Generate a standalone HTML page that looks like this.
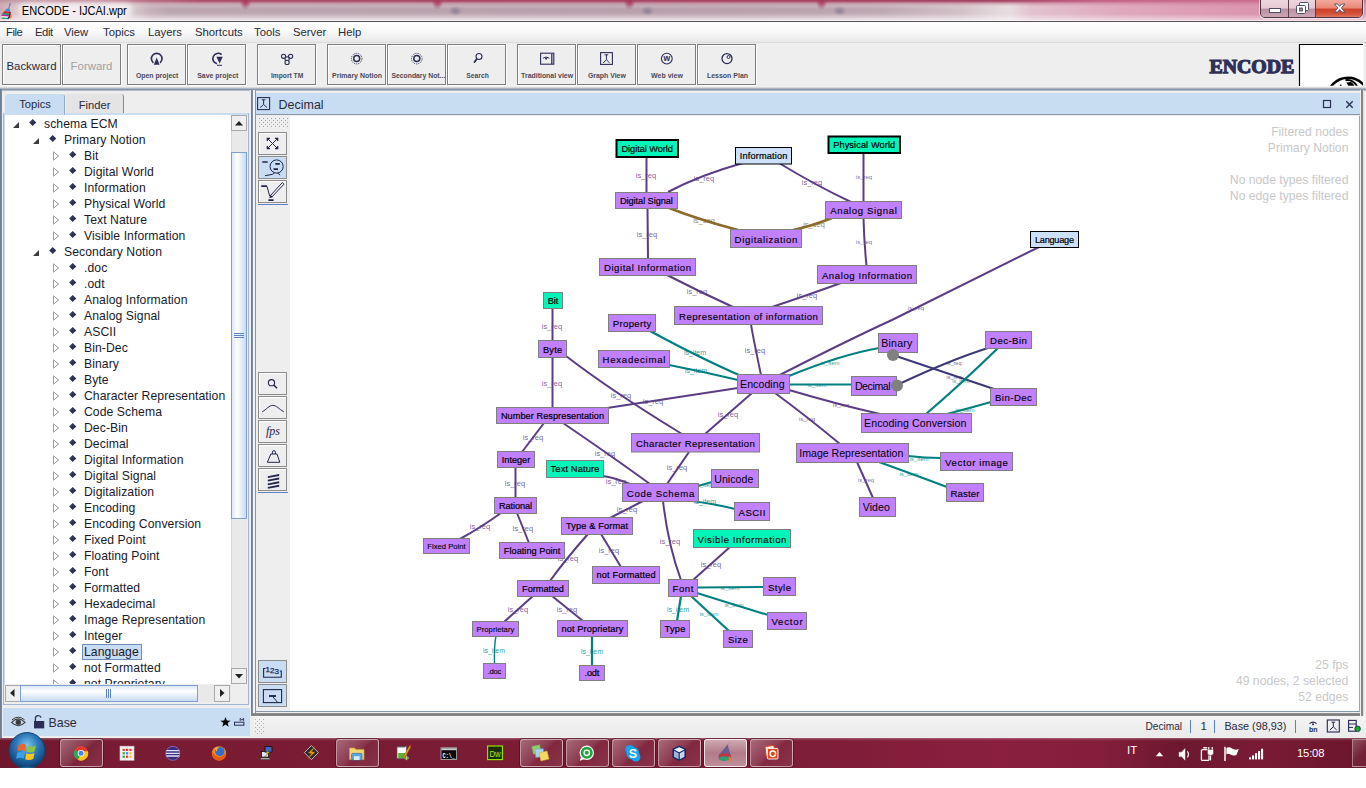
<!DOCTYPE html><html><head><meta charset="utf-8"><title>ENCODE - IJCAI.wpr</title><style>
*{box-sizing:border-box;margin:0;padding:0}
html,body{width:1366px;height:788px;overflow:hidden;background:#fff}
body{font-family:"Liberation Sans",sans-serif;font-size:12px;color:#222;position:relative}
.abs{position:absolute}
#title{left:0;top:0;width:1366px;height:21px;background:
 radial-gradient(ellipse 6px 9px at 245.5px 1px,rgba(168,36,82,.9) 0,rgba(168,36,82,.55) 45%,rgba(168,36,82,0) 100%),radial-gradient(ellipse 6px 9px at 437.5px 1px,rgba(168,36,82,.9) 0,rgba(168,36,82,.55) 45%,rgba(168,36,82,0) 100%),radial-gradient(ellipse 6px 9px at 629.5px 1px,rgba(168,36,82,.9) 0,rgba(168,36,82,.55) 45%,rgba(168,36,82,0) 100%),radial-gradient(ellipse 6px 9px at 821.5px 1px,rgba(168,36,82,.9) 0,rgba(168,36,82,.55) 45%,rgba(168,36,82,0) 100%),
 radial-gradient(ellipse 7px 5px at 455.5px 11px,rgba(96,100,140,.6) 0,rgba(96,100,140,0) 100%),radial-gradient(ellipse 7px 5px at 647.5px 11px,rgba(96,100,140,.6) 0,rgba(96,100,140,0) 100%),radial-gradient(ellipse 7px 5px at 839.5px 11px,rgba(96,100,140,.6) 0,rgba(96,100,140,0) 100%),
 linear-gradient(180deg,rgba(255,255,255,0) 0,rgba(255,255,255,0) 14px,rgba(255,255,255,.42) 19px,rgba(255,255,255,.5) 21px),
 linear-gradient(90deg,#cfa9b2 0,#dcc3c9 14px,#e4d6da 40px,#e6dadd 125px,#d5c3c9 150px,#d3c0c7 420px,#d1bcc4 640px,#d4c0c7 800px,#dccdd2 960px,#e8dde0 1010px,#e3c3cf 1030px,#dfa9bd 1120px,#db95af 1250px,#dc98b1 1366px)}
#tstrip{left:0;top:0;width:1366px;height:6px;background:linear-gradient(90deg,rgba(184,140,152,.7) 0,rgba(190,120,140,.75) 100px,rgba(166,62,94,.95) 200px,rgba(162,56,90,1) 1000px,rgba(190,84,120,.9) 1100px,rgba(200,104,138,.7) 1366px);-webkit-mask-image:linear-gradient(180deg,#000 0,rgba(0,0,0,.8) 1.5px,rgba(0,0,0,.3) 3.5px,transparent 6px);mask-image:linear-gradient(180deg,#000 0,rgba(0,0,0,.8) 1.5px,rgba(0,0,0,.3) 3.5px,transparent 6px)}
#tband{left:0;top:3px;width:1366px;height:16px;background:linear-gradient(90deg,rgba(140,108,126,0) 120px,rgba(140,108,126,.34) 170px,rgba(140,108,126,.34) 880px,rgba(140,108,126,0) 1000px);-webkit-mask-image:linear-gradient(180deg,transparent 0,#000 6px,#000 9px,transparent 16px);mask-image:linear-gradient(180deg,transparent 0,#000 6px,#000 9px,transparent 16px)}
#tline{left:0;top:21px;width:1366px;height:1px;background:#55505a}
#menu{left:0;top:22px;width:1366px;height:21px;background:linear-gradient(180deg,#fff 0,#fbfbfb 40%,#e8e8e8 100%);border-bottom:1px solid #dcdcdc}
#menu span{position:absolute;top:4px;font-size:11.3px;color:#2a2a3a}
#tool{left:0;top:43px;width:1366px;height:46px;background:#eeeeee}
.tb{position:absolute;top:1px;width:59px;height:41px;border:1px solid #7d7d7d;background:#eeeeee;box-shadow:inset 1px 1px 0 #fff, 1px 1px 0 #fff}
.tb .l{position:absolute;left:0;right:0;top:25px;text-align:center;font-size:7.2px;font-weight:bold;color:#3a3a48;white-space:nowrap;letter-spacing:-.1px}
.tb .big{position:absolute;left:0;right:0;top:14.5px;text-align:center;font-size:11.4px;color:#2a2a3a}
.tb svg{position:absolute;left:20px;top:5px}

/* main area */
#main{left:0;top:89px;width:1366px;height:649px;background:#eeeeee}
#wl{left:0;top:89px;width:2px;height:649px;background:linear-gradient(90deg,#66788f,#8092aa)}
#topline{left:0;top:87px;width:1366px;height:4px;background:linear-gradient(180deg,#e2e2e2 0,#cfcfcf 1px,#8a9ab0 2px,#7f90a8 3px,#dfe6ee 4px)}
/* left panel */
#lp{left:3px;top:91px;width:247px;height:617px;background:#eeeeee}
.tab{position:absolute;font-size:11.2px;color:#2a2a3a;text-align:center}
#tab1{left:5px;top:94px;width:60px;height:21px;background:#c8ddf2;border:1px solid #c8ddf2;border-radius:3px 3px 0 0;padding-top:2.5px;border-right:1px solid #8fa9c8}
#tab2{left:66px;top:94px;width:58px;height:19px;background:#e4e4e4;border-right:1px solid #6f8db9;border-radius:0 3px 0 0;padding-top:5px}
#tabline{left:3px;top:113px;width:246px;height:2px;background:#c8ddf2}
#tree{left:4px;top:115px;width:227px;height:569px;background:#fff;overflow:hidden;border-left:1px solid #c8ddf2}
.tr{position:absolute;height:16px;line-height:16px;font-size:12.2px;color:#1a1a2a;white-space:nowrap;letter-spacing:.07px}
.dm{position:absolute;width:5.4px;height:5.4px;background:#2f3358;transform:rotate(45deg)}
.ao{position:absolute;width:0;height:0;border-left:6px solid transparent;border-bottom:6px solid #3c3c3c}
.ac{position:absolute;width:8px;height:10px}
#vs{left:231px;top:115px;width:16px;height:569px;background:#e9e9e9;border-left:1px solid #cfd8e6}
#hs{left:5px;top:685px;width:226px;height:17px;background:#e9e9e9}
.sb{position:absolute;background:#efefef;border:1px solid #a9a9a9}
#lpb{left:3px;top:684px;width:246px;height:22px}
#lpframe{left:3px;top:113px;width:246px;height:592px;border:1px solid #9fb6d4;border-top:none;pointer-events:none}
#base{left:3px;top:708px;width:247px;height:28px;background:#c8ddf2}
#base .t{left:45.5px;top:7.5px;font-size:12.4px;color:#2a2a3a}
/* splitter */
#split{left:250px;top:90px;width:6px;height:626px;background:linear-gradient(90deg,#eeeeee 0,#eeeeee 1px,#6f8098 1.3px,#8393ab 2.9px,#f4f4f4 2.9px,#f4f4f4 5px,#8497b0 5px)}
/* graph panel */
#gh{left:256px;top:93px;width:1104px;height:22px;background:#c8ddf2;border-bottom:1px solid #8497b0}
#gh .t{left:22.5px;top:5px;font-size:12.5px;color:#2a2a3a}
#gb{left:256px;top:116px;width:1104px;border-right:1px solid #9aa6b6;height:596px;background:#fff;border-bottom:1px solid #8497b0}
#gbot{left:252px;top:713px;width:1112px;height:3px;background:linear-gradient(180deg,#9a9a9a,#7d7d7d 50%,#8d8d8d)}
#gtool{left:256px;top:116px;width:34px;height:595px;background:#eeeeee}
.gb{position:absolute;left:258px;width:29px;height:23px;border:1px solid #8c8c8c;background:#eeeeee;box-shadow:inset 1px 1px 0 #fff}
.gt{position:absolute;right:17.6px;font-size:12.2px;color:#c8c8c8;white-space:nowrap;text-align:right;letter-spacing:0}
#wr{left:1360px;top:90px;width:4px;height:626px;background:linear-gradient(90deg,#f2f2f2 0,#f2f2f2 1px,#7d7d7d 1px,#8a8a8a 3px,#e0e0e0 3px)}
/* status */
#stat{left:254px;top:716px;width:1112px;height:21px;background:linear-gradient(180deg,#f4f4f4,#eaeaea)}
#stat span{position:absolute;top:4px;font-size:12px;color:#2a2a3a}
.vsep{position:absolute;top:4px;width:1px;height:13px;background:#5b82c6}
/* taskbar */
#task{left:0;top:738px;width:1366px;height:30px;background:linear-gradient(180deg,rgba(255,255,255,.28) 0,rgba(255,255,255,.06) 2px,rgba(255,255,255,0) 3px),linear-gradient(90deg,#6d162c 0,#7a1b34 120px,#7a1c34 500px,#7d1d37 800px,#8a1f40 1000px,#841e3c 1100px,#6c1730 1180px,#7a1b36 1260px,#6a152c 1366px)}
.tk{position:absolute;top:1px;width:43px;height:28px;border:1px solid rgba(255,255,255,.5);border-radius:3px;background:linear-gradient(135deg,rgba(255,255,255,.34),rgba(255,255,255,.14) 45%,rgba(255,255,255,.05) 55%,rgba(255,255,255,.1));box-shadow:0 0 0 1px rgba(60,10,25,.5)}
</style></head><body>
<div id="title" class="abs"></div><div id="tband" class="abs"></div><div id="tstrip" class="abs"></div><div class="abs" style="left:0;top:20px;width:1366px;height:1px;background:rgba(255,255,255,.55)"></div><div id="tline" class="abs"></div>
<svg class="abs" style="left:0;top:0" width="200" height="22" viewBox="0 0 200 22"><defs><filter id="tg" x="-10%" y="-50%" width="120%" height="200%"><feGaussianBlur stdDeviation="2.2"/></filter></defs><rect x="18" y="3" width="114" height="15" rx="6" fill="#fff" opacity=".55" filter="url(#tg)"/><text x="21.8" y="14.9" font-family="Liberation Sans, sans-serif" font-size="12.3" fill="#000" textLength="105" lengthAdjust="spacingAndGlyphs">ENCODE - IJCAI.wpr</text><path d="M10.4 3 L8.6 8.6" stroke="#7a78b8" stroke-width="1.2"/><path d="M7 8.4 L9.6 8.6 L10.4 12 L4.6 11Z" fill="#3d8fd0"/><path d="M4.6 11 L10.4 12 L10.9 13.8 L2.8 12.8Z" fill="#e02424"/><path d="M2.8 12.8 L10.9 13.8 L10.7 15.3 L1.8 14.4Z" fill="#1d8a6c"/><path d="M1.8 14.4 L10.7 15.3 L10 16.8 L1.4 16Z" fill="#b030a0"/><path d="M1.4 16 L10 16.8 L9 18 L1.3 17.4Z" fill="#f0e8ee"/><path d="M1.3 17.4 L9 18 L8 19 L2 18.8Z" fill="#1f9a5c"/><path d="M9.4 11.8 L10.6 12 L10.2 17.4 L8.4 19 L7.2 18.8 Q9.6 16 9.4 11.8Z" fill="#2b2a8c"/><path d="M10.6 13 Q12.2 14.6 11.6 17.6 L9.2 18.9 Q10.8 16.4 10.6 13Z" fill="#f07a1e"/></svg>
<div id="menu" class="abs">
<span style="left:6px;letter-spacing:-.45px">File</span>
<span style="left:35px;letter-spacing:-.45px">Edit</span>
<span style="left:64px">View</span>
<span style="left:103px">Topics</span>
<span style="left:148px">Layers</span>
<span style="left:195px">Shortcuts</span>
<span style="left:254px">Tools</span>
<span style="left:293px">Server</span>
<span style="left:338px">Help</span>
</div>
<div id="tool" class="abs">
<div class="tb" style="left:2px"><div class="big">Backward</div></div>
<div class="tb" style="left:62px"><div class="big" style="color:#a0a0a0">Forward</div></div>
<div class="tb" style="left:127px"></div>
<div class="tb" style="left:187px"></div>
<div class="tb" style="left:257px"></div>
<div class="tb" style="left:327px"></div>
<div class="tb" style="left:387px"></div>
<div class="tb" style="left:447px"></div>
<div class="tb" style="left:517px"></div>
<div class="tb" style="left:577px"></div>
<div class="tb" style="left:637px"></div>
<div class="tb" style="left:697px"></div>
<svg class="abs" style="left:0;top:-43px" width="1366" height="89" viewBox="0 0 1366 89" font-family="Liberation Sans, sans-serif">
<text x="136" y="78" font-size="7.3" font-weight="bold" fill="#4a4a58" textLength="42.3" lengthAdjust="spacingAndGlyphs">Open project</text>
<text x="197.2" y="78" font-size="7.3" font-weight="bold" fill="#4a4a58" textLength="41.2" lengthAdjust="spacingAndGlyphs">Save project</text>
<text x="271" y="78" font-size="7.3" font-weight="bold" fill="#4a4a58" textLength="32.2" lengthAdjust="spacingAndGlyphs">Import TM</text>
<text x="332.1" y="78" font-size="7.3" font-weight="bold" fill="#4a4a58" textLength="49.8" lengthAdjust="spacingAndGlyphs">Primary Notion</text>
<text x="391.4" y="78" font-size="7.3" font-weight="bold" fill="#4a4a58" textLength="53.9" lengthAdjust="spacingAndGlyphs">Secondary Not...</text>
<text x="466.3" y="78" font-size="7.3" font-weight="bold" fill="#4a4a58" textLength="22.5" lengthAdjust="spacingAndGlyphs">Search</text>
<text x="521.1" y="78" font-size="7.3" font-weight="bold" fill="#4a4a58" textLength="52" lengthAdjust="spacingAndGlyphs">Traditional view</text>
<text x="587.9" y="78" font-size="7.3" font-weight="bold" fill="#4a4a58" textLength="37.9" lengthAdjust="spacingAndGlyphs">Graph View</text>
<text x="651.1" y="78" font-size="7.3" font-weight="bold" fill="#4a4a58" textLength="31.8" lengthAdjust="spacingAndGlyphs">Web view</text>
<text x="706.9" y="78" font-size="7.3" font-weight="bold" fill="#4a4a58" textLength="41.2" lengthAdjust="spacingAndGlyphs">Lesson Plan</text>
<path d="M153.4 62.8 A5.3 5.3 0 1 1 160 62.8" fill="none" stroke="#2b2d55" stroke-width="1.6"/><path d="M153.8 64.8 L159.6 64.8 L156.7 57.6Z" fill="#2b2d55"/>
<path d="M221.6 54.6 A5.3 5.3 0 1 0 217 63.8" fill="none" stroke="#2b2d55" stroke-width="1.6"/><path d="M216.4 56.8 L222.8 56.8 L219.6 63.4Z" fill="#2b2d55"/><path d="M217 65.3 H222" stroke="#2b2d55" stroke-width="1"/>
<circle cx="283.6" cy="56.3" r="2.1" fill="#eee" stroke="#2b2d55" stroke-width="1.1"/>
<circle cx="290.6" cy="56.3" r="2.1" fill="#eee" stroke="#2b2d55" stroke-width="1.1"/>
<circle cx="287.1" cy="58.9" r="2.1" fill="#eee" stroke="#2b2d55" stroke-width="1.1"/>
<circle cx="287.1" cy="62.4" r="2.1" fill="#eee" stroke="#2b2d55" stroke-width="1.1"/>
<circle cx="356.7" cy="58.6" r="3" fill="none" stroke="#2b2d55" stroke-width="1.5"/><circle cx="356.7" cy="58.6" r="5.3" fill="none" stroke="#2b2d55" stroke-width="1" stroke-dasharray="1 1"/>
<circle cx="416.8" cy="58.6" r="3" fill="none" stroke="#2b2d55" stroke-width="1.5"/><circle cx="416.8" cy="58.6" r="5.3" fill="none" stroke="#2b2d55" stroke-width="1" stroke-dasharray="1 1"/>
<circle cx="479" cy="56.5" r="3" fill="none" stroke="#2b2d55" stroke-width="1.1"/><path d="M477 58.8 L474 62.6" stroke="#2b2d55" stroke-width="1.8"/>
<rect x="540.6" y="53.2" width="13.2" height="11" fill="none" stroke="#2b2d55" stroke-width="1.1"/><path d="M551.8 54 V64" stroke="#2b2d55" stroke-width="1.3"/><path d="M543 58.2 Q546.2 55.8 549.4 58.2" fill="none" stroke="#2b2d55" stroke-width="1"/><circle cx="546.2" cy="58.6" r="1.1" fill="#2b2d55"/>
<rect x="600.6" y="52.6" width="11.8" height="11.8" fill="none" stroke="#2b2d55" stroke-width="1.1"/><path d="M604.6 54.8 H608.2 M606.4 54.8 V59.8 L603.2 62.8 M606.4 59.8 L609.6 62.8" fill="none" stroke="#2b2d55" stroke-width="1"/>
<circle cx="666.8" cy="58.6" r="5.4" fill="none" stroke="#2b2d55" stroke-width="1.1"/><text x="666.8" y="61.3" font-size="8.5" font-weight="bold" fill="#2b2d55" text-anchor="middle">w</text>
<circle cx="727" cy="58.6" r="5" fill="none" stroke="#2b2d55" stroke-width="1.3"/><circle cx="728.5" cy="57" r="1.5" fill="none" stroke="#2b2d55" stroke-width="1"/>
</svg>
</div>
<div class="abs" style="left:1260px;top:-1px;width:103px;height:19px;border:1px solid #4a3540;border-radius:0 0 5px 5px;overflow:hidden;box-shadow:0 0 0 1px rgba(255,255,255,.55)"><div class="abs" style="left:0;top:0;width:28px;height:18px;background:linear-gradient(180deg,#ecd6dd 0,#e6c9d3 45%,#b98fa0 50%,#cfa9b7 100%);border-right:1px solid #5a3f4a"></div><div class="abs" style="left:28px;top:0;width:27px;height:18px;background:linear-gradient(180deg,#ecd6dd 0,#e6c9d3 45%,#b98fa0 50%,#cfa9b7 100%);border-right:1px solid #5a3f4a"></div><div class="abs" style="left:55px;top:0;width:48px;height:18px;background:linear-gradient(180deg,#f3a99c 0,#e98775 45%,#cf3f28 50%,#d4553c 80%,#e88a70 100%)"></div></div>
<svg class="abs" style="left:1260px;top:0" width="104" height="18" viewBox="0 0 104 18"><rect x="9.5" y="8.5" width="11" height="4" fill="#fff" stroke="#4a4f68" stroke-width="1"/><rect x="39.5" y="2.5" width="9" height="8" rx="1" fill="#fff" stroke="#4a4f68" stroke-width="1"/><rect x="36.5" y="5.5" width="9" height="8" rx="1" fill="#fff" stroke="#4a4f68" stroke-width="1"/><rect x="39.5" y="8" width="3" height="3" fill="#9a7f90" stroke="#4a4f68" stroke-width=".8"/><path d="M74.5 4 L77.7 4 L79.7 6.4 L81.7 4 L84.9 4 L81.4 8 L84.9 12 L81.7 12 L79.7 9.6 L77.7 12 L74.5 12 L78 8Z" fill="#fff" stroke="#4a4f68" stroke-width=".9"/></svg>
<svg class="abs" style="left:1196px;top:43px" width="170" height="46" viewBox="1196 43 170 46"><text x="1209.4" y="73" font-family="Liberation Serif, serif" font-weight="bold" font-size="19.8" fill="#2e3057" stroke="#2e3057" stroke-width="1.25" textLength="84.9" lengthAdjust="spacingAndGlyphs">ENCODE</text><rect x="1299.5" y="44.5" width="64" height="42" fill="#fff" stroke="none"/><path d="M1299.5 86 V44.5 H1363" fill="none" stroke="#000" stroke-width="1.2"/><clipPath id="lc"><rect x="1300" y="45" width="63" height="40.8"/></clipPath><g clip-path="url(#lc)"><circle cx="1348" cy="98.2" r="20.5" fill="none" stroke="#000" stroke-width="2.5"/><path d="M1345.4 80.3 Q1352.6 78.8 1357.2 86.4" fill="none" stroke="#000" stroke-width="1.9"/><path d="M1346.4 82.4 L1351 82 Q1353.6 83.6 1354.4 86 L1348.4 86Z" fill="#000"/><circle cx="1340.8" cy="85.3" r=".9" fill="#000"/></g></svg>
<div id="main" class="abs"></div><div id="topline" class="abs"></div><div id="wl" class="abs"></div>
<div id="lp" class="abs"></div>
<div id="tab2" class="abs tab">Finder</div><div id="tabline" class="abs"></div><div id="tab1" class="abs tab">Topics</div>
<div id="tree" class="abs">
<div class="ao" style="left:8px;top:6.5px"></div>
<div class="dm" style="left:24.6px;top:5.2px"></div>
<div class="tr" style="left:39px;top:1px">schema ECM</div>
<div class="ao" style="left:28px;top:22.5px"></div>
<div class="dm" style="left:44.6px;top:21.2px"></div>
<div class="tr" style="left:59px;top:17px">Primary Notion</div>
<svg class="ac" style="left:47px;top:36px" viewBox="0 0 8 10"><path d="M1.5 .8 L6.5 5 L1.5 9.2 Z" fill="#fff" stroke="#9a9a9a" stroke-width="1"/></svg>
<div class="dm" style="left:64.6px;top:37.2px"></div>
<div class="tr" style="left:79px;top:33px">Bit</div>
<svg class="ac" style="left:47px;top:52px" viewBox="0 0 8 10"><path d="M1.5 .8 L6.5 5 L1.5 9.2 Z" fill="#fff" stroke="#9a9a9a" stroke-width="1"/></svg>
<div class="dm" style="left:64.6px;top:53.2px"></div>
<div class="tr" style="left:79px;top:49px">Digital World</div>
<svg class="ac" style="left:47px;top:68px" viewBox="0 0 8 10"><path d="M1.5 .8 L6.5 5 L1.5 9.2 Z" fill="#fff" stroke="#9a9a9a" stroke-width="1"/></svg>
<div class="dm" style="left:64.6px;top:69.2px"></div>
<div class="tr" style="left:79px;top:65px">Information</div>
<svg class="ac" style="left:47px;top:84px" viewBox="0 0 8 10"><path d="M1.5 .8 L6.5 5 L1.5 9.2 Z" fill="#fff" stroke="#9a9a9a" stroke-width="1"/></svg>
<div class="dm" style="left:64.6px;top:85.2px"></div>
<div class="tr" style="left:79px;top:81px">Physical World</div>
<svg class="ac" style="left:47px;top:100px" viewBox="0 0 8 10"><path d="M1.5 .8 L6.5 5 L1.5 9.2 Z" fill="#fff" stroke="#9a9a9a" stroke-width="1"/></svg>
<div class="dm" style="left:64.6px;top:101.2px"></div>
<div class="tr" style="left:79px;top:97px">Text Nature</div>
<svg class="ac" style="left:47px;top:116px" viewBox="0 0 8 10"><path d="M1.5 .8 L6.5 5 L1.5 9.2 Z" fill="#fff" stroke="#9a9a9a" stroke-width="1"/></svg>
<div class="dm" style="left:64.6px;top:117.2px"></div>
<div class="tr" style="left:79px;top:113px">Visible Information</div>
<div class="ao" style="left:28px;top:134.5px"></div>
<div class="dm" style="left:44.6px;top:133.2px"></div>
<div class="tr" style="left:59px;top:129px">Secondary Notion</div>
<svg class="ac" style="left:47px;top:148px" viewBox="0 0 8 10"><path d="M1.5 .8 L6.5 5 L1.5 9.2 Z" fill="#fff" stroke="#9a9a9a" stroke-width="1"/></svg>
<div class="dm" style="left:64.6px;top:149.2px"></div>
<div class="tr" style="left:79px;top:145px">.doc</div>
<svg class="ac" style="left:47px;top:164px" viewBox="0 0 8 10"><path d="M1.5 .8 L6.5 5 L1.5 9.2 Z" fill="#fff" stroke="#9a9a9a" stroke-width="1"/></svg>
<div class="dm" style="left:64.6px;top:165.2px"></div>
<div class="tr" style="left:79px;top:161px">.odt</div>
<svg class="ac" style="left:47px;top:180px" viewBox="0 0 8 10"><path d="M1.5 .8 L6.5 5 L1.5 9.2 Z" fill="#fff" stroke="#9a9a9a" stroke-width="1"/></svg>
<div class="dm" style="left:64.6px;top:181.2px"></div>
<div class="tr" style="left:79px;top:177px">Analog Information</div>
<svg class="ac" style="left:47px;top:196px" viewBox="0 0 8 10"><path d="M1.5 .8 L6.5 5 L1.5 9.2 Z" fill="#fff" stroke="#9a9a9a" stroke-width="1"/></svg>
<div class="dm" style="left:64.6px;top:197.2px"></div>
<div class="tr" style="left:79px;top:193px">Analog Signal</div>
<svg class="ac" style="left:47px;top:212px" viewBox="0 0 8 10"><path d="M1.5 .8 L6.5 5 L1.5 9.2 Z" fill="#fff" stroke="#9a9a9a" stroke-width="1"/></svg>
<div class="dm" style="left:64.6px;top:213.2px"></div>
<div class="tr" style="left:79px;top:209px">ASCII</div>
<svg class="ac" style="left:47px;top:228px" viewBox="0 0 8 10"><path d="M1.5 .8 L6.5 5 L1.5 9.2 Z" fill="#fff" stroke="#9a9a9a" stroke-width="1"/></svg>
<div class="dm" style="left:64.6px;top:229.2px"></div>
<div class="tr" style="left:79px;top:225px">Bin-Dec</div>
<svg class="ac" style="left:47px;top:244px" viewBox="0 0 8 10"><path d="M1.5 .8 L6.5 5 L1.5 9.2 Z" fill="#fff" stroke="#9a9a9a" stroke-width="1"/></svg>
<div class="dm" style="left:64.6px;top:245.2px"></div>
<div class="tr" style="left:79px;top:241px">Binary</div>
<svg class="ac" style="left:47px;top:260px" viewBox="0 0 8 10"><path d="M1.5 .8 L6.5 5 L1.5 9.2 Z" fill="#fff" stroke="#9a9a9a" stroke-width="1"/></svg>
<div class="dm" style="left:64.6px;top:261.2px"></div>
<div class="tr" style="left:79px;top:257px">Byte</div>
<svg class="ac" style="left:47px;top:276px" viewBox="0 0 8 10"><path d="M1.5 .8 L6.5 5 L1.5 9.2 Z" fill="#fff" stroke="#9a9a9a" stroke-width="1"/></svg>
<div class="dm" style="left:64.6px;top:277.2px"></div>
<div class="tr" style="left:79px;top:273px">Character Representation</div>
<svg class="ac" style="left:47px;top:292px" viewBox="0 0 8 10"><path d="M1.5 .8 L6.5 5 L1.5 9.2 Z" fill="#fff" stroke="#9a9a9a" stroke-width="1"/></svg>
<div class="dm" style="left:64.6px;top:293.2px"></div>
<div class="tr" style="left:79px;top:289px">Code Schema</div>
<svg class="ac" style="left:47px;top:308px" viewBox="0 0 8 10"><path d="M1.5 .8 L6.5 5 L1.5 9.2 Z" fill="#fff" stroke="#9a9a9a" stroke-width="1"/></svg>
<div class="dm" style="left:64.6px;top:309.2px"></div>
<div class="tr" style="left:79px;top:305px">Dec-Bin</div>
<svg class="ac" style="left:47px;top:324px" viewBox="0 0 8 10"><path d="M1.5 .8 L6.5 5 L1.5 9.2 Z" fill="#fff" stroke="#9a9a9a" stroke-width="1"/></svg>
<div class="dm" style="left:64.6px;top:325.2px"></div>
<div class="tr" style="left:79px;top:321px">Decimal</div>
<svg class="ac" style="left:47px;top:340px" viewBox="0 0 8 10"><path d="M1.5 .8 L6.5 5 L1.5 9.2 Z" fill="#fff" stroke="#9a9a9a" stroke-width="1"/></svg>
<div class="dm" style="left:64.6px;top:341.2px"></div>
<div class="tr" style="left:79px;top:337px">Digital Information</div>
<svg class="ac" style="left:47px;top:356px" viewBox="0 0 8 10"><path d="M1.5 .8 L6.5 5 L1.5 9.2 Z" fill="#fff" stroke="#9a9a9a" stroke-width="1"/></svg>
<div class="dm" style="left:64.6px;top:357.2px"></div>
<div class="tr" style="left:79px;top:353px">Digital Signal</div>
<svg class="ac" style="left:47px;top:372px" viewBox="0 0 8 10"><path d="M1.5 .8 L6.5 5 L1.5 9.2 Z" fill="#fff" stroke="#9a9a9a" stroke-width="1"/></svg>
<div class="dm" style="left:64.6px;top:373.2px"></div>
<div class="tr" style="left:79px;top:369px">Digitalization</div>
<svg class="ac" style="left:47px;top:388px" viewBox="0 0 8 10"><path d="M1.5 .8 L6.5 5 L1.5 9.2 Z" fill="#fff" stroke="#9a9a9a" stroke-width="1"/></svg>
<div class="dm" style="left:64.6px;top:389.2px"></div>
<div class="tr" style="left:79px;top:385px">Encoding</div>
<svg class="ac" style="left:47px;top:404px" viewBox="0 0 8 10"><path d="M1.5 .8 L6.5 5 L1.5 9.2 Z" fill="#fff" stroke="#9a9a9a" stroke-width="1"/></svg>
<div class="dm" style="left:64.6px;top:405.2px"></div>
<div class="tr" style="left:79px;top:401px">Encoding Conversion</div>
<svg class="ac" style="left:47px;top:420px" viewBox="0 0 8 10"><path d="M1.5 .8 L6.5 5 L1.5 9.2 Z" fill="#fff" stroke="#9a9a9a" stroke-width="1"/></svg>
<div class="dm" style="left:64.6px;top:421.2px"></div>
<div class="tr" style="left:79px;top:417px">Fixed Point</div>
<svg class="ac" style="left:47px;top:436px" viewBox="0 0 8 10"><path d="M1.5 .8 L6.5 5 L1.5 9.2 Z" fill="#fff" stroke="#9a9a9a" stroke-width="1"/></svg>
<div class="dm" style="left:64.6px;top:437.2px"></div>
<div class="tr" style="left:79px;top:433px">Floating Point</div>
<svg class="ac" style="left:47px;top:452px" viewBox="0 0 8 10"><path d="M1.5 .8 L6.5 5 L1.5 9.2 Z" fill="#fff" stroke="#9a9a9a" stroke-width="1"/></svg>
<div class="dm" style="left:64.6px;top:453.2px"></div>
<div class="tr" style="left:79px;top:449px">Font</div>
<svg class="ac" style="left:47px;top:468px" viewBox="0 0 8 10"><path d="M1.5 .8 L6.5 5 L1.5 9.2 Z" fill="#fff" stroke="#9a9a9a" stroke-width="1"/></svg>
<div class="dm" style="left:64.6px;top:469.2px"></div>
<div class="tr" style="left:79px;top:465px">Formatted</div>
<svg class="ac" style="left:47px;top:484px" viewBox="0 0 8 10"><path d="M1.5 .8 L6.5 5 L1.5 9.2 Z" fill="#fff" stroke="#9a9a9a" stroke-width="1"/></svg>
<div class="dm" style="left:64.6px;top:485.2px"></div>
<div class="tr" style="left:79px;top:481px">Hexadecimal</div>
<svg class="ac" style="left:47px;top:500px" viewBox="0 0 8 10"><path d="M1.5 .8 L6.5 5 L1.5 9.2 Z" fill="#fff" stroke="#9a9a9a" stroke-width="1"/></svg>
<div class="dm" style="left:64.6px;top:501.2px"></div>
<div class="tr" style="left:79px;top:497px">Image Representation</div>
<svg class="ac" style="left:47px;top:516px" viewBox="0 0 8 10"><path d="M1.5 .8 L6.5 5 L1.5 9.2 Z" fill="#fff" stroke="#9a9a9a" stroke-width="1"/></svg>
<div class="dm" style="left:64.6px;top:517.2px"></div>
<div class="tr" style="left:79px;top:513px">Integer</div>
<svg class="ac" style="left:47px;top:532px" viewBox="0 0 8 10"><path d="M1.5 .8 L6.5 5 L1.5 9.2 Z" fill="#fff" stroke="#9a9a9a" stroke-width="1"/></svg>
<div class="dm" style="left:64.6px;top:533.2px"></div>
<div class="tr" style="left:77px;top:529px;background:#c8ddf2;border:1px solid #6f8db9;padding:0 2px 0 1px;line-height:14px">Language</div>
<svg class="ac" style="left:47px;top:548px" viewBox="0 0 8 10"><path d="M1.5 .8 L6.5 5 L1.5 9.2 Z" fill="#fff" stroke="#9a9a9a" stroke-width="1"/></svg>
<div class="dm" style="left:64.6px;top:549.2px"></div>
<div class="tr" style="left:79px;top:545px">not Formatted</div>
<svg class="ac" style="left:47px;top:564px" viewBox="0 0 8 10"><path d="M1.5 .8 L6.5 5 L1.5 9.2 Z" fill="#fff" stroke="#9a9a9a" stroke-width="1"/></svg>
<div class="dm" style="left:64.6px;top:565.2px"></div>
<div class="tr" style="left:79px;top:561px">not Proprietary</div>
</div>
<div id="vs" class="abs"></div>
<div class="sb" style="left:231px;top:115px;width:16px;height:16px"></div>
<svg class="abs" style="left:235px;top:121px" width="8" height="5"><path d="M0 4.5 L4 0 L8 4.5Z" fill="#222"/></svg>
<div class="sb" style="left:231px;top:668px;width:16px;height:16px"></div>
<svg class="abs" style="left:235px;top:674px" width="8" height="5"><path d="M0 0 L4 4.5 L8 0Z" fill="#222"/></svg>
<div class="abs" style="left:231px;top:152px;width:16px;height:367px;border:1px solid #7f9fd0;background:linear-gradient(90deg,#dbe7f7 0,#fff 35%,#c8daf2 100%)"></div>
<div class="abs" style="left:234px;top:333px;width:10px;height:1px;background:#5b82c6"></div>
<div class="abs" style="left:234px;top:335px;width:10px;height:1px;background:#5b82c6"></div>
<div class="abs" style="left:234px;top:337px;width:10px;height:1px;background:#5b82c6"></div>
<div id="hs" class="abs"></div>
<div class="sb" style="left:5px;top:685px;width:16px;height:17px"></div>
<svg class="abs" style="left:10px;top:689px" width="5" height="8"><path d="M4.5 0 L0 4 L4.5 8Z" fill="#222"/></svg>
<div class="sb" style="left:214px;top:685px;width:16px;height:17px"></div>
<svg class="abs" style="left:220px;top:689px" width="5" height="8"><path d="M0 0 L4.5 4 L0 8Z" fill="#222"/></svg>
<div class="abs" style="left:20px;top:685px;width:178px;height:17px;border:1px solid #7f9fd0;background:linear-gradient(180deg,#dbe7f7 0,#fff 35%,#c8daf2 100%)"></div>
<div class="abs" style="left:106px;top:689px;width:1px;height:9px;background:#5b82c6"></div>
<div class="abs" style="left:108px;top:689px;width:1px;height:9px;background:#5b82c6"></div>
<div class="abs" style="left:110px;top:689px;width:1px;height:9px;background:#5b82c6"></div>
<div id="lpframe" class="abs"></div>
<div id="base" class="abs"><span class="abs t">Base</span></div>
<div id="split" class="abs"></div>
<div id="gh" class="abs"><span class="abs t">Decimal</span></div>
<div id="gb" class="abs"></div><div id="gtool" class="abs"></div><div id="gbot" class="abs"></div>
<div id="wr" class="abs"></div>
<svg class="abs" style="left:1318px;top:96px" width="40" height="16"><rect x="5.5" y="4.5" width="7" height="7" fill="none" stroke="#2b2d55" stroke-width="1.2"/><path d="M28.3 5.3 L34.7 11.7 M34.7 5.3 L28.3 11.7" stroke="#2b2d55" stroke-width="1.4"/></svg>
<svg class="abs" style="left:257px;top:97px" width="14" height="14"><rect x=".6" y=".6" width="12" height="12" fill="none" stroke="#2b2d55" stroke-width="1.1"/><path d="M4.8 2.8 H8.4 M6.6 2.8 V7.4 L3.2 10.6 M6.6 7.4 L10 10.6" fill="none" stroke="#2b2d55" stroke-width="1"/></svg>
<div class="gt" style="top:125px">Filtered nodes</div>
<div class="gt" style="top:141px">Primary Notion</div>
<div class="gt" style="top:173px">No node types filtered</div>
<div class="gt" style="top:189px">No edge types filtered</div>
<div class="gt" style="top:658px">25 fps</div>
<div class="gt" style="top:674px">49 nodes, 2 selected</div>
<div class="gt" style="top:690px">52 edges</div>
<div class="gb" style="top:132px;background:#eeeeee"></div>
<div class="gb" style="top:156px;background:#c8ddf2;box-shadow:none"></div>
<div class="gb" style="top:180px;background:#eeeeee"></div>
<div class="gb" style="top:372px;background:#eeeeee"></div>
<div class="gb" style="top:396px;background:#eeeeee"></div>
<div class="gb" style="top:420px;background:#eeeeee"></div>
<div class="gb" style="top:444px;background:#eeeeee"></div>
<div class="gb" style="top:468px;background:#eeeeee"></div>
<div class="gb" style="top:660px;background:#c8ddf2;box-shadow:none"></div>
<div class="gb" style="top:684px;background:#c8ddf2;box-shadow:none"></div>
<svg class="abs" style="left:254px;top:114px" width="40" height="600" viewBox="254 114 40 600" fill="none" stroke="#23254d" stroke-width="1.1">
<pattern id="gd" x="258" y="118" width="4" height="4" patternUnits="userSpaceOnUse"><rect x="1" y="0" width="1" height="1" fill="#9aa6ba" stroke="none"/><rect x="3" y="2" width="1" height="1" fill="#9aa6ba" stroke="none"/></pattern><rect x="258" y="118" width="30" height="10" fill="url(#gd)" stroke="none"/>
<path d="M258 204.5 H288 M258 492.5 H288" stroke="#5b82c6" stroke-width="1"/>
<path d="M267.5 138.5 L277.5 148.5 M277.5 138.5 L267.5 148.5" stroke-width="1"/><path d="M267.3 141 V138.3 H270 M275 138.3 H277.7 V141 M277.7 146 V148.7 H275 M270 148.7 H267.3 V146" stroke-width="1.25"/>
<path d="M262.3 162 H267.7 M275.3 163.8 H279.8 M273.5 169.2 H278" stroke-width="1.7"/><circle cx="276.6" cy="166.5" r="6.6" stroke-width="1"/><path d="M265 175.7 L270 174.8 Q273 174.6 274.5 173 M277.5 173.2 Q279 173.5 280 175.2" stroke-width="1"/>
<path d="M261.3 186.2 H267 M268.4 200.2 H273.6" stroke-width="1.7"/><path d="M267 186.4 L269.6 195.8" stroke-width="1"/><path d="M270.4 195.6 L282.3 182.6 L284 184.2 L271.8 197 Z" stroke-width="1"/><path d="M270 197.4 L270.4 195.6 L271.8 197Z" fill="#23254d"/>
<circle cx="271.5" cy="382.7" r="3.1" stroke-width="1.1"/><path d="M273.8 385 L277 388.2" stroke-width="1.5"/>
<path d="M262.2 411.8 C267 409 269 405.4 272.8 405.4 C276.5 405.4 279 409 283.8 411.8" stroke-width="1"/>
<text x="273" y="435" font-family="Liberation Serif, serif" font-style="italic" font-size="12" fill="#23254d" stroke="none" text-anchor="middle">fps</text>
<path d="M270.8 454 H277 L279.8 462.3 H267.4 Z M272.4 454 V452.2 Q272.4 450.6 273.9 450.6 Q275.4 450.6 275.4 452.2 V454" stroke-width="1"/>
<path d="M267.8 476.2 L279.2 474.0 L279.2 476.0 L267.8 478.0Z" fill="#23254d" stroke="none"/>
<path d="M267.8 479.8 L279.2 477.6 L279.2 479.6 L267.8 481.6Z" fill="#23254d" stroke="none"/>
<path d="M267.8 483.4 L279.2 481.2 L279.2 483.2 L267.8 485.2Z" fill="#23254d" stroke="none"/>
<path d="M267.8 487.0 L279.2 484.8 L279.2 486.8 L267.8 488.8Z" fill="#23254d" stroke="none"/>
<path d="M265.5 668.5 H263.6 V677.3 H281.3 V671 H279.8" stroke-width="1.1"/><text x="265.6" y="672" font-size="8" fill="#23254d" stroke="#23254d" stroke-width=".25">1</text><text x="270" y="673" font-size="8" fill="#23254d" stroke="#23254d" stroke-width=".25">2</text><text x="274.4" y="674" font-size="8" fill="#23254d" stroke="#23254d" stroke-width=".25">3</text>
<rect x="263.4" y="689.6" width="18.2" height="13" stroke-width="1.1"/><path d="M269 696 H276" stroke-width="1.9"/><path d="M272.6 696.4 L277.4 702.2" stroke-width="1"/>
</svg>
<svg class="abs" style="left:0;top:0" width="1366" height="788" viewBox="0 0 1366 788" font-family="Liberation Sans, sans-serif">
<path d="M646.5 157 L646.5 193" stroke="#5b3d86" stroke-width="2" fill="none"/>
<path d="M743 163 Q700 175 668 192" stroke="#5b3d86" stroke-width="2" fill="none"/>
<path d="M779 163 Q815 185 851 202" stroke="#5b3d86" stroke-width="2" fill="none"/>
<path d="M863.5 153 L863.5 202" stroke="#5b3d86" stroke-width="2" fill="none"/>
<path d="M647.5 208 L648 259" stroke="#5b3d86" stroke-width="2" fill="none"/>
<path d="M669 208 Q700 220 738 230" stroke="#8b6a2b" stroke-width="2.6" fill="none"/>
<path d="M793 230 Q812 226 832 218" stroke="#8b6a2b" stroke-width="2.6" fill="none"/>
<path d="M863.5 218 Q864 240 866.5 266" stroke="#5b3d86" stroke-width="2" fill="none"/>
<path d="M667 275 Q700 292 733 307" stroke="#5b3d86" stroke-width="2" fill="none"/>
<path d="M841 283 Q805 296 772 307" stroke="#5b3d86" stroke-width="2" fill="none"/>
<path d="M1039 247 L892 320 Q846 341 770 380" stroke="#5b3d86" stroke-width="2" fill="none"/>
<path d="M751 324 Q752 332 761 375" stroke="#5b3d86" stroke-width="2" fill="none"/>
<path d="M552.5 308 L552.5 341" stroke="#5b3d86" stroke-width="2" fill="none"/>
<path d="M552.5 357 L552.5 408" stroke="#5b3d86" stroke-width="2" fill="none"/>
<path d="M566 356 Q610 390 682 434" stroke="#5b3d86" stroke-width="2" fill="none"/>
<path d="M607 408 Q660 400 738 388" stroke="#5b3d86" stroke-width="2" fill="none"/>
<path d="M752 393 L705 434" stroke="#5b3d86" stroke-width="2" fill="none"/>
<path d="M650 331 Q700 358 739 375" stroke="#008080" stroke-width="2.2" fill="none"/>
<path d="M669 365 Q705 372 738 380" stroke="#008080" stroke-width="2.2" fill="none"/>
<path d="M789 376 Q840 355 879 348" stroke="#008080" stroke-width="2.2" fill="none"/>
<path d="M789 384.5 L852 384.5" stroke="#008080" stroke-width="2.2" fill="none"/>
<path d="M789 390 Q840 405 880 414" stroke="#5b3d86" stroke-width="2" fill="none"/>
<path d="M775 393 Q805 415 840 444" stroke="#5b3d86" stroke-width="2" fill="none"/>
<path d="M893 355 L994 389" stroke="#3c387a" stroke-width="2" fill="none"/>
<path d="M897 385 Q950 360 988 348" stroke="#3c387a" stroke-width="2" fill="none"/>
<path d="M998 348 Q960 385 926 414" stroke="#008080" stroke-width="2.2" fill="none"/>
<path d="M991 402 Q970 408 947 414" stroke="#008080" stroke-width="2.2" fill="none"/>
<path d="M544 423 L522 452" stroke="#5b3d86" stroke-width="2" fill="none"/>
<path d="M563 423 Q610 455 650 484" stroke="#5b3d86" stroke-width="2" fill="none"/>
<path d="M515.5 467 L515.5 498" stroke="#5b3d86" stroke-width="2" fill="none"/>
<path d="M689 452 L667 484" stroke="#5b3d86" stroke-width="2" fill="none"/>
<path d="M603 476 Q616 478 630 484" stroke="#5b3d86" stroke-width="2" fill="none"/>
<path d="M698 486 L712 482" stroke="#008080" stroke-width="2.2" fill="none"/>
<path d="M692 501 Q715 504 735 509" stroke="#008080" stroke-width="2.2" fill="none"/>
<path d="M908 456 Q925 458 941 458" stroke="#008080" stroke-width="2.2" fill="none"/>
<path d="M879 462 Q915 475 947 487" stroke="#008080" stroke-width="2.2" fill="none"/>
<path d="M857 462 L873 498" stroke="#5b3d86" stroke-width="2" fill="none"/>
<path d="M643 501 L610 518" stroke="#5b3d86" stroke-width="2" fill="none"/>
<path d="M663 501 Q668 545 681 580" stroke="#5b3d86" stroke-width="2" fill="none"/>
<path d="M501 513 Q480 528 460 539" stroke="#5b3d86" stroke-width="2" fill="none"/>
<path d="M517 513 L529 543" stroke="#5b3d86" stroke-width="2" fill="none"/>
<path d="M588 534 Q565 560 550 581" stroke="#5b3d86" stroke-width="2" fill="none"/>
<path d="M601 534 L621 567" stroke="#5b3d86" stroke-width="2" fill="none"/>
<path d="M730 547 L693 580" stroke="#5b3d86" stroke-width="2" fill="none"/>
<path d="M697 587.5 L764 587" stroke="#008080" stroke-width="2.2" fill="none"/>
<path d="M697 593 Q735 605 768 615" stroke="#008080" stroke-width="2.2" fill="none"/>
<path d="M691 596 L729 631" stroke="#008080" stroke-width="2.2" fill="none"/>
<path d="M681 596 L677 621" stroke="#008080" stroke-width="2.2" fill="none"/>
<path d="M533 596 L504 622" stroke="#5b3d86" stroke-width="2" fill="none"/>
<path d="M552 596 L583 621" stroke="#5b3d86" stroke-width="2" fill="none"/>
<path d="M496 636 Q494 645 494.5 664" stroke="#008080" stroke-width="1.4" fill="none"/>
<path d="M592 636 L592 666" stroke="#008080" stroke-width="2.2" fill="none"/>
<text x="646" y="177.6" font-size="7.5" fill="#5b3d86" fill-opacity=".82" text-anchor="middle">is_req</text>
<text x="704" y="180.6" font-size="7.5" fill="#5b3d86" fill-opacity=".82" text-anchor="middle">is_req</text>
<text x="812" y="184.6" font-size="7.5" fill="#5b3d86" fill-opacity=".82" text-anchor="middle">is_req</text>
<text x="864" y="179.1" font-size="6" fill="#5b3d86" fill-opacity=".82" text-anchor="middle">is_req</text>
<text x="647" y="236.6" font-size="7.5" fill="#5b3d86" fill-opacity=".82" text-anchor="middle">is_req</text>
<text x="704" y="222.6" font-size="7.5" fill="#8b6a2b" fill-opacity=".82" text-anchor="middle">is_seq</text>
<text x="814" y="226.6" font-size="7.5" fill="#8b6a2b" fill-opacity=".82" text-anchor="middle">is_seq</text>
<text x="864" y="244.1" font-size="6" fill="#5b3d86" fill-opacity=".82" text-anchor="middle">is_req</text>
<text x="697" y="293.6" font-size="7.5" fill="#5b3d86" fill-opacity=".82" text-anchor="middle">is_req</text>
<text x="807" y="297.6" font-size="7.5" fill="#5b3d86" fill-opacity=".82" text-anchor="middle">is_req</text>
<text x="916" y="310.1" font-size="6" fill="#5b3d86" fill-opacity=".82" text-anchor="middle">is_req</text>
<text x="755" y="352.6" font-size="7.5" fill="#5b3d86" fill-opacity=".82" text-anchor="middle">is_req</text>
<text x="552" y="328.6" font-size="7.5" fill="#5b3d86" fill-opacity=".82" text-anchor="middle">is_req</text>
<text x="552" y="385.6" font-size="7.5" fill="#5b3d86" fill-opacity=".82" text-anchor="middle">is_req</text>
<text x="621" y="397.6" font-size="7.5" fill="#5b3d86" fill-opacity=".82" text-anchor="middle">is_req</text>
<text x="653" y="403.6" font-size="7.5" fill="#5b3d86" fill-opacity=".82" text-anchor="middle">is_req</text>
<text x="728" y="416.6" font-size="7.5" fill="#5b3d86" fill-opacity=".82" text-anchor="middle">is_req</text>
<text x="695" y="355.4" font-size="7" fill="#008080" fill-opacity=".82" text-anchor="middle">is_item</text>
<text x="696" y="373.4" font-size="7" fill="#008080" fill-opacity=".82" text-anchor="middle">is_item</text>
<text x="830" y="365.1" font-size="6" fill="#008080" fill-opacity=".82" text-anchor="middle">is_item</text>
<text x="817" y="387.1" font-size="6" fill="#008080" fill-opacity=".82" text-anchor="middle">is_item</text>
<text x="841" y="407.1" font-size="6" fill="#5b3d86" fill-opacity=".82" text-anchor="middle">is_req</text>
<text x="807" y="421.1" font-size="6" fill="#5b3d86" fill-opacity=".82" text-anchor="middle">is_req</text>
<text x="954" y="378.9" font-size="5.5" fill="#3c387a" fill-opacity=".82" text-anchor="middle">is_req</text>
<text x="954" y="364.9" font-size="5.5" fill="#3c387a" fill-opacity=".82" text-anchor="middle">is_req</text>
<text x="961" y="382.9" font-size="5.5" fill="#008080" fill-opacity=".82" text-anchor="middle">is_item</text>
<text x="965" y="412.1" font-size="6" fill="#008080" fill-opacity=".82" text-anchor="middle">is_item</text>
<text x="533" y="439.6" font-size="7.5" fill="#5b3d86" fill-opacity=".82" text-anchor="middle">is_req</text>
<text x="605" y="455.6" font-size="7.5" fill="#5b3d86" fill-opacity=".82" text-anchor="middle">is_req</text>
<text x="515" y="485.6" font-size="7.5" fill="#5b3d86" fill-opacity=".82" text-anchor="middle">is_req</text>
<text x="677" y="469.6" font-size="7.5" fill="#5b3d86" fill-opacity=".82" text-anchor="middle">is_req</text>
<text x="616" y="483.6" font-size="7.5" fill="#5b3d86" fill-opacity=".82" text-anchor="middle">is_req</text>
<text x="705" y="487.1" font-size="6" fill="#008080" fill-opacity=".82" text-anchor="middle">is_item</text>
<text x="705" y="504.4" font-size="7" fill="#008080" fill-opacity=".82" text-anchor="middle">is_item</text>
<text x="919" y="461.1" font-size="6" fill="#008080" fill-opacity=".82" text-anchor="middle">is_item</text>
<text x="909" y="476.1" font-size="6" fill="#008080" fill-opacity=".82" text-anchor="middle">is_item</text>
<text x="866" y="482.1" font-size="6" fill="#5b3d86" fill-opacity=".82" text-anchor="middle">is_req</text>
<text x="627" y="511.6" font-size="7.5" fill="#5b3d86" fill-opacity=".82" text-anchor="middle">is_req</text>
<text x="670" y="543.6" font-size="7.5" fill="#5b3d86" fill-opacity=".82" text-anchor="middle">is_req</text>
<text x="480" y="528.6" font-size="7.5" fill="#5b3d86" fill-opacity=".82" text-anchor="middle">is_req</text>
<text x="523" y="530.6" font-size="7.5" fill="#5b3d86" fill-opacity=".82" text-anchor="middle">is_req</text>
<text x="568" y="560.6" font-size="7.5" fill="#5b3d86" fill-opacity=".82" text-anchor="middle">is_req</text>
<text x="609" y="552.6" font-size="7.5" fill="#5b3d86" fill-opacity=".82" text-anchor="middle">is_req</text>
<text x="711" y="566.6" font-size="7.5" fill="#5b3d86" fill-opacity=".82" text-anchor="middle">is_req</text>
<text x="730" y="590.1" font-size="6" fill="#008080" fill-opacity=".82" text-anchor="middle">is_item</text>
<text x="734" y="607.1" font-size="6" fill="#008080" fill-opacity=".82" text-anchor="middle">is_item</text>
<text x="709" y="616.1" font-size="6" fill="#008080" fill-opacity=".82" text-anchor="middle">is_item</text>
<text x="678" y="611.5" font-size="7" fill="#008080" fill-opacity=".82" text-anchor="middle">is_item</text>
<text x="518" y="611.6" font-size="7.5" fill="#5b3d86" fill-opacity=".82" text-anchor="middle">is_req</text>
<text x="567" y="611.6" font-size="7.5" fill="#5b3d86" fill-opacity=".82" text-anchor="middle">is_req</text>
<text x="494" y="652.5" font-size="7" fill="#008080" fill-opacity=".82" text-anchor="middle">is_item</text>
<text x="592" y="653.5" font-size="7" fill="#008080" fill-opacity=".82" text-anchor="middle">is_item</text>
<rect x="616.5" y="140" width="61.5" height="17" fill="#00f5b8" stroke="#000" stroke-width="2"/>
<text x="621.5" y="152.2" font-size="9.2" fill="#000" textLength="51.4" lengthAdjust="spacing" stroke="#000" stroke-width="0.2">Digital World</text>
<rect x="735.5" y="147.5" width="56.0" height="16.5" fill="#cde0fa" stroke="#000" stroke-width="1"/>
<text x="739.7" y="159.4" font-size="9.2" fill="#000" textLength="47.6" lengthAdjust="spacing" stroke="#000" stroke-width="0.2">Information</text>
<rect x="828.5" y="136.5" width="71.5" height="16.5" fill="#00f5b8" stroke="#000" stroke-width="2"/>
<text x="833.2" y="148.4" font-size="9.2" fill="#000" textLength="62" lengthAdjust="spacing" stroke="#000" stroke-width="0.2">Physical World</text>
<rect x="615.5" y="192.5" width="62.0" height="16.0" fill="#c080ff" stroke="#7f7f7f" stroke-width="1"/>
<text x="620.0" y="204.2" font-size="9.2" fill="#000" textLength="52.9" lengthAdjust="spacing" stroke="#000" stroke-width="0.2">Digital Signal</text>
<rect x="825.5" y="201.5" width="76.0" height="17.0" fill="#c080ff" stroke="#7f7f7f" stroke-width="1"/>
<text x="830.2" y="214.0" font-size="9.6" fill="#000" textLength="66.6" lengthAdjust="spacing" stroke="#000" stroke-width="0.13">Analog Signal</text>
<rect x="730.5" y="229.5" width="71.0" height="18.0" fill="#c080ff" stroke="#7f7f7f" stroke-width="1"/>
<text x="734.6" y="242.5" font-size="9.6" fill="#000" textLength="62.8" lengthAdjust="spacing" stroke="#000" stroke-width="0.13">Digitalization</text>
<rect x="1030.5" y="231.5" width="48.0" height="16.0" fill="#cde0fa" stroke="#000" stroke-width="1"/>
<text x="1034.9" y="243.2" font-size="9.2" fill="#000" textLength="39.2" lengthAdjust="spacing" stroke="#000" stroke-width="0.2">Language</text>
<rect x="599.5" y="258.5" width="96.0" height="17.0" fill="#c080ff" stroke="#7f7f7f" stroke-width="1"/>
<text x="603.9" y="271.0" font-size="9.6" fill="#000" textLength="87.2" lengthAdjust="spacing" stroke="#000" stroke-width="0.13">Digital Information</text>
<rect x="817.5" y="265.5" width="99.0" height="18.0" fill="#c080ff" stroke="#7f7f7f" stroke-width="1"/>
<text x="821.9" y="278.5" font-size="9.6" fill="#000" textLength="90.2" lengthAdjust="spacing" stroke="#000" stroke-width="0.13">Analog Information</text>
<rect x="674.5" y="306.5" width="148.0" height="18.0" fill="#c080ff" stroke="#7f7f7f" stroke-width="1"/>
<text x="679.0" y="319.5" font-size="9.6" fill="#000" textLength="138.9" lengthAdjust="spacing" stroke="#000" stroke-width="0.13">Representation of information</text>
<rect x="608.5" y="314.5" width="47.0" height="17.0" fill="#c080ff" stroke="#7f7f7f" stroke-width="1"/>
<text x="612.8" y="327.0" font-size="9.6" fill="#000" textLength="38.4" lengthAdjust="spacing" stroke="#000" stroke-width="0.13">Property</text>
<rect x="543.5" y="292.5" width="19.0" height="16.0" fill="#00f5b8" stroke="#7f7f7f" stroke-width="1"/>
<text x="547.7" y="304.2" font-size="9.2" fill="#000" textLength="10.6" lengthAdjust="spacing" stroke="#000" stroke-width="0.2">Bit</text>
<rect x="538.5" y="340.5" width="28.0" height="17.0" fill="#c080ff" stroke="#7f7f7f" stroke-width="1"/>
<text x="543.0" y="352.7" font-size="9.2" fill="#000" textLength="19.1" lengthAdjust="spacing" stroke="#000" stroke-width="0.2">Byte</text>
<rect x="598.5" y="350.5" width="71.0" height="17.0" fill="#c080ff" stroke="#7f7f7f" stroke-width="1"/>
<text x="602.6" y="363.0" font-size="9.6" fill="#000" textLength="62.8" lengthAdjust="spacing" stroke="#000" stroke-width="0.13">Hexadecimal</text>
<rect x="737.5" y="374.5" width="52.0" height="19.0" fill="#c080ff" stroke="#7f7f7f" stroke-width="1"/>
<text x="740.0" y="387.9" font-size="10.6" fill="#000" textLength="44.6" lengthAdjust="spacing" >Encoding</text>
<rect x="878.5" y="333.5" width="39.0" height="19.0" fill="#c080ff" stroke="#7f7f7f" stroke-width="1"/>
<text x="881.3" y="346.9" font-size="10.6" fill="#000" textLength="31" lengthAdjust="spacing" >Binary</text>
<rect x="851.5" y="376.5" width="45.0" height="19.0" fill="#c080ff" stroke="#7f7f7f" stroke-width="1"/>
<text x="854.9" y="389.9" font-size="10.6" fill="#000" textLength="35.7" lengthAdjust="spacing" >Decimal</text>
<rect x="985.5" y="331.5" width="46.0" height="17.0" fill="#c080ff" stroke="#7f7f7f" stroke-width="1"/>
<text x="990.0" y="344.0" font-size="9.6" fill="#000" textLength="36.9" lengthAdjust="spacing" stroke="#000" stroke-width="0.13">Dec-Bin</text>
<rect x="990.5" y="388.5" width="46.0" height="17.0" fill="#c080ff" stroke="#7f7f7f" stroke-width="1"/>
<text x="995.0" y="401.0" font-size="9.6" fill="#000" textLength="36.9" lengthAdjust="spacing" stroke="#000" stroke-width="0.13">Bin-Dec</text>
<rect x="861.5" y="413.5" width="110.0" height="19.0" fill="#c080ff" stroke="#7f7f7f" stroke-width="1"/>
<text x="864.1" y="426.9" font-size="10.6" fill="#000" textLength="102.3" lengthAdjust="spacing" >Encoding Conversion</text>
<rect x="496.5" y="407.5" width="112.0" height="16.0" fill="#c080ff" stroke="#7f7f7f" stroke-width="1"/>
<text x="500.9" y="419.2" font-size="9.2" fill="#000" textLength="103.2" lengthAdjust="spacing" stroke="#000" stroke-width="0.2">Number Respresentation</text>
<rect x="631.5" y="433.5" width="128.0" height="18.5" fill="#c080ff" stroke="#7f7f7f" stroke-width="1"/>
<text x="636.0" y="446.8" font-size="9.6" fill="#000" textLength="118.9" lengthAdjust="spacing" stroke="#000" stroke-width="0.13">Character Representation</text>
<rect x="796.5" y="443.5" width="112.0" height="19.0" fill="#c080ff" stroke="#7f7f7f" stroke-width="1"/>
<text x="799.3" y="456.9" font-size="10.6" fill="#000" textLength="104" lengthAdjust="spacing" >Image Representation</text>
<rect x="940.5" y="452.5" width="72.0" height="18.0" fill="#c080ff" stroke="#7f7f7f" stroke-width="1"/>
<text x="945.1" y="465.5" font-size="9.6" fill="#000" textLength="62.8" lengthAdjust="spacing" stroke="#000" stroke-width="0.13">Vector image</text>
<rect x="946.5" y="483.5" width="37.0" height="18.0" fill="#c080ff" stroke="#7f7f7f" stroke-width="1"/>
<text x="950.5" y="496.5" font-size="9.6" fill="#000" textLength="28.9" lengthAdjust="spacing" stroke="#000" stroke-width="0.13">Raster</text>
<rect x="859.5" y="497.5" width="36.0" height="19.0" fill="#c080ff" stroke="#7f7f7f" stroke-width="1"/>
<text x="862.7" y="510.9" font-size="10.6" fill="#000" textLength="27.2" lengthAdjust="spacing" >Video</text>
<rect x="497.5" y="451.5" width="37.0" height="16.0" fill="#c080ff" stroke="#7f7f7f" stroke-width="1"/>
<text x="501.8" y="463.2" font-size="9.2" fill="#000" textLength="28.4" lengthAdjust="spacing" stroke="#000" stroke-width="0.2">Integer</text>
<rect x="546.5" y="460.5" width="57.0" height="17.0" fill="#00f5b8" stroke="#7f7f7f" stroke-width="1"/>
<text x="550.6" y="471.7" font-size="9.2" fill="#000" textLength="48.7" lengthAdjust="spacing" stroke="#000" stroke-width="0.2">Text Nature</text>
<rect x="711.5" y="469.5" width="47.0" height="18.0" fill="#c080ff" stroke="#7f7f7f" stroke-width="1"/>
<text x="714.2" y="483.2" font-size="10.6" fill="#000" textLength="39.1" lengthAdjust="spacing" >Unicode</text>
<rect x="622.5" y="483.5" width="76.0" height="18.0" fill="#c080ff" stroke="#7f7f7f" stroke-width="1"/>
<text x="626.8" y="496.5" font-size="9.6" fill="#000" textLength="67.5" lengthAdjust="spacing" stroke="#000" stroke-width="0.13">Code Schema</text>
<rect x="734.5" y="502.5" width="35.0" height="18.0" fill="#c080ff" stroke="#7f7f7f" stroke-width="1"/>
<text x="738.6" y="515.5" font-size="9.6" fill="#000" textLength="26.7" lengthAdjust="spacing" stroke="#000" stroke-width="0.13">ASCII</text>
<rect x="494.5" y="497.5" width="42.0" height="16.0" fill="#c080ff" stroke="#7f7f7f" stroke-width="1"/>
<text x="498.9" y="509.2" font-size="9.2" fill="#000" textLength="33.2" lengthAdjust="spacing" stroke="#000" stroke-width="0.2">Rational</text>
<rect x="561.5" y="517.5" width="71.0" height="17.0" fill="#c080ff" stroke="#7f7f7f" stroke-width="1"/>
<text x="566.0" y="528.5" font-size="9.2" fill="#000" textLength="62" lengthAdjust="spacing" stroke="#000" stroke-width="0.2">Type &amp; Format</text>
<rect x="693.5" y="529.5" width="97.0" height="18.0" fill="#00f5b8" stroke="#7f7f7f" stroke-width="1"/>
<text x="697.6" y="542.5" font-size="9.6" fill="#000" textLength="88.8" lengthAdjust="spacing" stroke="#000" stroke-width="0.13">Visible Information</text>
<rect x="423.5" y="538.5" width="46.0" height="15.0" fill="#c080ff" stroke="#7f7f7f" stroke-width="1"/>
<text x="427.3" y="548.9" font-size="7.7" fill="#000" textLength="38.4" lengthAdjust="spacing" stroke="#000" stroke-width="0.1">Fixed Point</text>
<rect x="499.5" y="542.5" width="65.0" height="16.0" fill="#c080ff" stroke="#7f7f7f" stroke-width="1"/>
<text x="503.8" y="554.2" font-size="9.2" fill="#000" textLength="56.5" lengthAdjust="spacing" stroke="#000" stroke-width="0.2">Floating Point</text>
<rect x="592.5" y="566.5" width="67.0" height="17.0" fill="#c080ff" stroke="#7f7f7f" stroke-width="1"/>
<text x="596.4" y="577.5" font-size="9.2" fill="#000" textLength="59.3" lengthAdjust="spacing" stroke="#000" stroke-width="0.2">not Formatted</text>
<rect x="517.5" y="580.5" width="51.0" height="16.0" fill="#c080ff" stroke="#7f7f7f" stroke-width="1"/>
<text x="522.1" y="592.2" font-size="9.2" fill="#000" textLength="41.8" lengthAdjust="spacing" stroke="#000" stroke-width="0.2">Formatted</text>
<rect x="668.5" y="579.5" width="29.0" height="17.0" fill="#c080ff" stroke="#7f7f7f" stroke-width="1"/>
<text x="672.5" y="592.0" font-size="9.6" fill="#000" textLength="20.9" lengthAdjust="spacing" stroke="#000" stroke-width="0.13">Font</text>
<rect x="763.5" y="577.5" width="32.0" height="18.0" fill="#c080ff" stroke="#7f7f7f" stroke-width="1"/>
<text x="768.0" y="590.5" font-size="9.6" fill="#000" textLength="23" lengthAdjust="spacing" stroke="#000" stroke-width="0.13">Style</text>
<rect x="767.5" y="612.5" width="39.0" height="17.0" fill="#c080ff" stroke="#7f7f7f" stroke-width="1"/>
<text x="771.4" y="625.0" font-size="9.6" fill="#000" textLength="31.2" lengthAdjust="spacing" stroke="#000" stroke-width="0.13">Vector</text>
<rect x="660.5" y="620.5" width="29.0" height="17.0" fill="#c080ff" stroke="#7f7f7f" stroke-width="1"/>
<text x="664.5" y="631.7" font-size="9.2" fill="#000" textLength="20.9" lengthAdjust="spacing" stroke="#000" stroke-width="0.2">Type</text>
<rect x="723.5" y="630.5" width="29.0" height="17.0" fill="#c080ff" stroke="#7f7f7f" stroke-width="1"/>
<text x="728.0" y="643.0" font-size="9.6" fill="#000" textLength="19.9" lengthAdjust="spacing" stroke="#000" stroke-width="0.13">Size</text>
<rect x="472.5" y="621.5" width="46.0" height="15.0" fill="#c080ff" stroke="#7f7f7f" stroke-width="1"/>
<text x="476.6" y="631.9" font-size="7.7" fill="#000" textLength="37.7" lengthAdjust="spacing" stroke="#000" stroke-width="0.1">Proprietary</text>
<rect x="557.5" y="620.5" width="70.0" height="16.0" fill="#c080ff" stroke="#7f7f7f" stroke-width="1"/>
<text x="561.6" y="632.2" font-size="9.2" fill="#000" textLength="61.7" lengthAdjust="spacing" stroke="#000" stroke-width="0.2">not Proprietary</text>
<rect x="483.5" y="663.5" width="22.0" height="15.0" fill="#c080ff" stroke="#7f7f7f" stroke-width="1"/>
<text x="487.6" y="673.9" font-size="7.7" fill="#000" textLength="13.7" lengthAdjust="spacing" stroke="#000" stroke-width="0.1">.doc</text>
<rect x="579.5" y="665.5" width="25.0" height="15.0" fill="#c080ff" stroke="#7f7f7f" stroke-width="1"/>
<text x="584.6" y="675.5" font-size="9.2" fill="#000" textLength="14.7" lengthAdjust="spacing" stroke="#000" stroke-width="0.2">.odt</text>
<circle cx="893" cy="355" r="6" fill="#808080"/><circle cx="897" cy="385.5" r="6" fill="#808080"/>
</svg>
<div id="stat" class="abs"><i class="vsep" style="left:936px"></i><i class="vsep" style="left:960px"></i><i class="vsep" style="left:1041px"></i></div>
<svg class="abs" style="left:254px;top:716px" width="1112" height="22" viewBox="254 716 1112 22" fill="none" stroke="#23254d" stroke-width="1.1">
<pattern id="gd2" x="255" y="719" width="4" height="4" patternUnits="userSpaceOnUse"><rect x="0" y="0" width="1" height="1" fill="#aab2c2" stroke="none"/><rect x="2" y="2" width="1" height="1" fill="#aab2c2" stroke="none"/></pattern><rect x="255" y="719" width="10" height="15" fill="url(#gd2)" stroke="none"/>
<g font-family="Liberation Sans, sans-serif" font-size="11.4" fill="#2a2a3a" stroke="none"><text x="1145.4" y="730.2" textLength="36.7" lengthAdjust="spacingAndGlyphs">Decimal</text><text x="1200.6" y="730.2">1</text><text x="1224.4" y="730.2" textLength="62" lengthAdjust="spacingAndGlyphs">Base (98,93)</text></g>
<path d="M1309.5 723.6 Q1313 720.8 1316.5 723.6" stroke-width="1.2"/><circle cx="1313" cy="724.2" r="1" fill="#23254d" stroke="none"/><text x="1309" y="731.6" font-size="6.5" font-weight="bold" fill="#23254d" stroke="none" textLength="8.5" lengthAdjust="spacingAndGlyphs">bn</text>
<rect x="1327.3" y="720" width="12" height="12" stroke-width="1.1"/><path d="M1331.5 722.2 H1335.1 M1333.3 722.2 V726.8 L1329.9 730 M1333.3 726.8 L1336.7 730" stroke-width="1"/>
<rect x="1348.6" y="720.4" width="7.6" height="10.8" stroke-width="1.1"/><path d="M1348.6 724 H1356.2 M1348.6 727.4 H1353" stroke-width="1"/><circle cx="1357.6" cy="728.8" r="2.8" fill="#10b020" stroke="#23254d" stroke-width=".8"/>
</svg>
<svg class="abs" style="left:3px;top:708px" width="247" height="28" viewBox="3 708 247 28">
<path d="M11.6 722.4 Q18.2 715.4 25 722.4 Q18.2 729.2 11.6 722.4Z" fill="none" stroke="#3c3c3c" stroke-width="1.1"/><circle cx="18.3" cy="722.3" r="2.7" fill="#3c3c3c"/><path d="M12 719.8 Q18.2 714.6 24.6 719.8" fill="none" stroke="#3c3c3c" stroke-width="1"/>
<rect x="34" y="721" width="10.2" height="7.4" fill="#2b2d55"/><path d="M35.4 721 V718.6 Q35.4 715.6 38.2 715.6 Q40.6 715.6 41 717.6" fill="none" stroke="#2b2d55" stroke-width="1.3"/>
<path d="M225.5 717 L226.8 720.6 L230.6 720.7 L227.6 723 L228.7 726.7 L225.5 724.5 L222.3 726.7 L223.4 723 L220.4 720.7 L224.2 720.6Z" fill="#000"/>
<rect x="234.5" y="722.2" width="9.4" height="3" fill="none" stroke="#2b2d55" stroke-width="1"/><path d="M240.2 721 V718.2 L241.9 720.2 L243.6 718.2 V721" fill="none" stroke="#2b2d55" stroke-width=".9"/>
</svg>
<div id="task" class="abs">
<div class="tk" style="left:60px"></div>
<div class="tk" style="left:336px"></div>
<div class="tk" style="left:520px"></div>
<div class="tk" style="left:566px"></div>
<div class="tk" style="left:612px"></div>
<div class="tk" style="left:658px"></div>
<div class="tk" style="left:704px;background:linear-gradient(180deg,rgba(255,255,255,.62),rgba(255,255,255,.42) 50%,rgba(255,255,255,.5));border-color:rgba(255,255,255,.8)"></div>
<div class="tk" style="left:750px"></div>
<div class="abs" style="left:1352px;top:1px;width:14px;height:28px;border:1px solid rgba(255,255,255,.4);border-right:none;background:linear-gradient(135deg,rgba(255,255,255,.25),rgba(255,255,255,.05) 60%)"></div>
<span class="abs" style="left:1127px;top:6px;color:#fff;font-size:11.5px">IT</span><span class="abs" style="left:1297px;top:9px;color:#fff;font-size:11.3px;letter-spacing:-.2px">15:08</span>
</div>
<svg class="abs" style="left:0;top:730px" width="1366" height="38" viewBox="0 730 1366 38">
<defs><radialGradient id="orb" cx=".5" cy=".35" r=".7"><stop offset="0" stop-color="#7fc4ee"/><stop offset=".45" stop-color="#2a78b8"/><stop offset=".8" stop-color="#134a80"/><stop offset="1" stop-color="#0a2c50"/></radialGradient><radialGradient id="orbg" cx=".5" cy="1" r=".5"><stop offset="0" stop-color="#35e0ff" stop-opacity=".9"/><stop offset="1" stop-color="#35e0ff" stop-opacity="0"/></radialGradient></defs>
<circle cx="27" cy="750.6" r="18" fill="url(#orb)" stroke="#1b3f66" stroke-width="1"/><ellipse cx="27" cy="766" rx="13" ry="5" fill="url(#orbg)"/>
<path d="M18.5 745.5 Q22 742.5 26 745 L25 751 Q21.5 749 17.5 751.5Z" fill="#f0642a"/><path d="M27.5 745.8 Q31.5 748 35.8 745.2 L34.6 751.4 Q30.5 753.6 26.5 751.6Z" fill="#8cc63f"/><path d="M17.2 753 Q21 750.6 24.8 752.6 L23.8 758.6 Q20 756.6 16.2 759Z" fill="#3aa0e8"/><path d="M26.2 753.2 Q30.3 755.2 34.4 752.8 L33.4 758.8 Q29.2 761 25.2 759.2Z" fill="#fdc41c"/>
<circle cx="81" cy="753.3" r="7.2" fill="#e33b2e"/><path d="M81 753.3 L74.8 749.7 A7.2 7.2 0 0 0 78 759.9Z" fill="#2da94f"/><path d="M81 753.3 L78 759.9 A7.2 7.2 0 0 0 87.9 751.3 L81 751.3Z" fill="#fcc31e"/><circle cx="81" cy="753.3" r="3.3" fill="#fff"/><circle cx="81" cy="753.3" r="2.5" fill="#4285f4"/>
<rect x="120" y="746.2" width="14" height="14" fill="#f4f4f4" stroke="#d8d8d8" stroke-width=".6"/>
<rect x="122.6" y="748.8" width="2.2" height="2.2" fill="#e33b2e"/>
<rect x="126.0" y="748.8" width="2.2" height="2.2" fill="#e33b2e"/>
<rect x="129.4" y="748.8" width="2.2" height="2.2" fill="#e33b2e"/>
<rect x="122.6" y="752.2" width="2.2" height="2.2" fill="#2da94f"/>
<rect x="126.0" y="752.2" width="2.2" height="2.2" fill="#4285f4"/>
<rect x="129.4" y="752.2" width="2.2" height="2.2" fill="#fcc31e"/>
<rect x="122.6" y="755.6" width="2.2" height="2.2" fill="#2da94f"/>
<rect x="126.0" y="755.6" width="2.2" height="2.2" fill="#e33b2e"/>
<rect x="129.4" y="755.6" width="2.2" height="2.2" fill="#fcc31e"/>
<circle cx="172.8" cy="753.3" r="7" fill="#3b2a7e"/><path d="M166 750.6 H179.6 M165.8 753.3 H179.8 M166 756 H179.6" stroke="#e8e4f6" stroke-width="1.3"/><circle cx="172.8" cy="753.3" r="7" fill="none" stroke="#8a78c8" stroke-width=".8"/>
<circle cx="219" cy="753.4" r="7.2" fill="#f08a1d"/><circle cx="219.8" cy="751.6" r="4.6" fill="#2f6fd0"/><path d="M212.4 751 Q214 756.5 219.5 757 Q224 756.6 225.8 752 Q226.8 758 221.5 760.2 Q214.5 761.5 212.2 756Z" fill="#e55b13"/><path d="M214.5 748 Q217 746.6 219 747.6 Q216.4 749.2 216.8 751.8Z" fill="#f6b030"/>
<rect x="261.5" y="751.5" width="7" height="5.6" fill="#dfe8f8" stroke="#111" stroke-width=".8"/><rect x="265" y="746.5" width="7" height="5.6" fill="#3a64d8" stroke="#111" stroke-width=".8"/><rect x="260.6" y="758" width="9" height="1.6" fill="#d8d8d8" stroke="#222" stroke-width=".5"/><path d="M270.5 747.5 L266 753 L268 753 L263.5 758 L269.5 752 L267.5 752Z" fill="#f6e21a" stroke="#6a5a00" stroke-width=".4"/>
<path d="M311.4 745.6 L318.4 752.6 L311.4 759.6 L304.4 752.6Z" fill="#2a2a2a" stroke="#c8c8c8" stroke-width=".9"/><path d="M315 746.6 L308.2 753 L311.6 753.4 L307.8 758.8 L315 752.2 L311.6 751.8Z" fill="#f29a1f" stroke="#a85a00" stroke-width=".4"/>
<path d="M349.5 748 H354.5 L356 749.6 H364 V759.6 H349.5Z" fill="#f2d675" stroke="#c9a53a" stroke-width=".7"/><rect x="351.6" y="753.4" width="10.4" height="6.6" rx="1" fill="#58a6e6" stroke="#2d6fb6" stroke-width=".7"/><rect x="354" y="756.2" width="5.6" height="3.8" fill="#d6ecfb"/>
<rect x="397" y="746.5" width="9.6" height="12" fill="#fafafa" stroke="#555" stroke-width=".7"/><path d="M398 746 V748 M400 746 V748 M402 746 V748 M404 746 V748" stroke="#333" stroke-width=".7"/><rect x="398.2" y="753" width="7" height="5" fill="#5ab030"/><path d="M409.6 745.6 L404 755.4 L402.8 758.4 L405.4 756.4 L411 746.6Z" fill="#e8a020" stroke="#8a5200" stroke-width=".4"/><circle cx="406.6" cy="758" r="2.2" fill="#2f6fd0"/><path d="M406.6 755.8 V760.2 M404.4 758 H408.8" stroke="#f4d020" stroke-width=".8"/><circle cx="410" cy="745.6" r="1" fill="#d02020"/>
<rect x="441" y="747.8" width="15.6" height="11.8" fill="#0a0a0a" stroke="#b8b8b8" stroke-width=".8"/><rect x="441.4" y="748.2" width="14.8" height="2" fill="#c8c8c8"/><text x="442.6" y="757.6" font-family="Liberation Mono, monospace" font-size="6.6" font-weight="bold" fill="#fff" textLength="12.4" lengthAdjust="spacingAndGlyphs">C:\_</text>
<rect x="487.6" y="746" width="14.8" height="13.6" fill="#1a2e05" stroke="#8ee000" stroke-width="1.2"/><text x="489.4" y="756.6" font-family="Liberation Sans, sans-serif" font-size="9.6" fill="#9bea10" textLength="11.4" lengthAdjust="spacingAndGlyphs">Dw</text>
<rect x="-4" y="-4" width="8" height="8" fill="#8cd070" stroke="#6aa850" stroke-width=".5" transform="translate(536.5 749.5) rotate(-12)"/><rect x="-4" y="-4" width="8" height="8" fill="#a8d4f2" stroke="#78a8d0" stroke-width=".5" transform="translate(539.5 753) rotate(-4)"/><rect x="-4.2" y="-4.2" width="8.4" height="8.4" fill="#f6d860" stroke="#c8a830" stroke-width=".5" transform="translate(544 756) rotate(-14)"/>
<circle cx="586.8" cy="752.8" r="7.2" fill="#fff"/><path d="M581 757 L579.8 760.8 L584 759.2Z" fill="#fff"/><circle cx="586.8" cy="752.8" r="6" fill="#22a33a"/><circle cx="586.8" cy="752.8" r="3.4" fill="#fff"/><circle cx="586.8" cy="752.8" r="2" fill="#22a33a"/>
<circle cx="629.8" cy="749.6" r="4.6" fill="#12a5f0"/><circle cx="635.8" cy="757" r="4.6" fill="#12a5f0"/><circle cx="632.8" cy="753.3" r="6.4" fill="#12a5f0"/><text x="632.8" y="757.8" font-family="Liberation Sans, sans-serif" font-size="12.5" font-weight="bold" fill="#fff" text-anchor="middle">S</text>
<path d="M679.2 745.6 L686 748.8 V757.4 L679.2 761 L672.4 757.4 V748.8Z" fill="#1b2a66" /><path d="M679.2 747.2 L684.4 749.6 L679.2 752.2 L674 749.6Z" fill="#eef4fb"/><path d="M674 750.8 L678.6 753.2 V759.2 L674 756.8Z" fill="#9fb8d8"/><path d="M684.4 750.8 L679.8 753.2 V759.2 L684.4 756.8Z" fill="#c8d8ec"/>
<path d="M727.6 744.4 L731.4 758 Q726 762.6 719 759.6 Q717.8 756 719.6 754Z" fill="#6d5a8c"/><path d="M719.4 754.2 Q724 752.4 730.4 754.6 L731.2 757.6 Q724.5 755 718.8 757.2Z" fill="#c8323c"/><path d="M718.8 757.4 Q724.6 755.4 731.3 758 Q726 762.4 719.2 759.8Z" fill="#2f9f6f"/><path d="M729 756 Q731.6 757.2 731 760.4 L728.4 761.2Z" fill="#f0781e"/><path d="M726.8 745 L729.4 743.6" stroke="#8a8ab0" stroke-width=".8"/>
<rect x="765.6" y="746" width="9" height="10.6" rx="1" fill="#fbe9e2" stroke="#e0481e" stroke-width="1" transform="rotate(-8 770 751)"/><rect x="767.4" y="748.4" width="10.6" height="10.6" rx="1" fill="#e0481e" stroke="#fff" stroke-width=".9"/><circle cx="772.8" cy="753.8" r="2.8" fill="none" stroke="#fff" stroke-width="1.3"/>
<path d="M1155.8 756.2 L1159.5 752 L1163.2 756.2Z" fill="#fff"/>
<path d="M1179 752.2 H1181.6 L1185 748.6 V760.2 L1181.6 756.6 H1179Z" fill="#fff" stroke="#d8d8d8" stroke-width=".5"/><path d="M1187.4 751.4 Q1189.6 754.4 1187.4 757.4" fill="none" stroke="#fff" stroke-width="1.1"/>
<rect x="1201.4" y="749.6" width="7.6" height="10.8" rx="1" fill="none" stroke="#fff" stroke-width="1.3"/><path d="M1203.2 747.8 H1207.2" stroke="#fff" stroke-width="1.4"/><path d="M1207.4 749.4 H1213.6 V753 Q1213.6 755.4 1210.5 755.6 Q1207.4 755.4 1207.4 753Z" fill="#fff" stroke="#71172e" stroke-width=".6"/><path d="M1208.8 747 V749.6 M1212.2 747 V749.6" stroke="#fff" stroke-width="1.2"/><path d="M1210.5 755.6 V760.4" stroke="#fff" stroke-width="1.2"/>
<path d="M1225 746.8 V761" stroke="#fff" stroke-width="1.5"/><path d="M1226.4 748 Q1229.4 746.4 1232 748.6 Q1235 750.6 1238.8 749 L1236.4 755 Q1233.4 756.4 1230.6 754.6 Q1228.4 753 1226.4 754.2Z" fill="#fff"/>
<rect x="1249.0" y="757.4" width="2.1" height="2" fill="#fff"/>
<rect x="1252.0" y="755.4" width="2.1" height="4" fill="#fff"/>
<rect x="1255.0" y="753.2" width="2.1" height="6.2" fill="#fff"/>
<rect x="1258.0" y="751.0" width="2.1" height="8.4" fill="#fff"/>
<rect x="1261.0" y="748.8" width="2.1" height="10.6" fill="#fff"/>
</svg>
</body></html>
